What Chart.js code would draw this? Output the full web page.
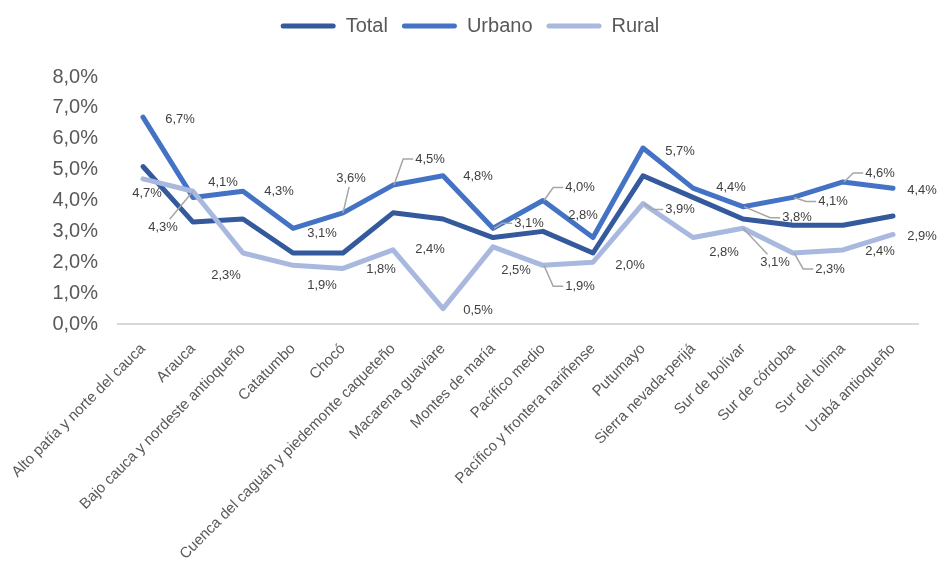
<!DOCTYPE html>
<html>
<head>
<meta charset="utf-8">
<script src="https://cdn.jsdelivr.net/npm/chart.js@4/dist/chart.umd.min.js"></script>
<style>
  body { margin: 0; background: #fff; }
</style>
</head>
<body>
<canvas id="chart" width="940" height="563"></canvas>
<script>
const FONT = "'Liberation Sans', Arial, sans-serif";

// Data
const regions = [
  'Alto patía y norte del cauca', 'Arauca', 'Bajo cauca y nordeste antioqueño', 'Catatumbo',
  'Chocó', 'Cuenca del caguán y piedemonte caqueteño', 'Macarena guaviare', 'Montes de maría',
  'Pacífico medio', 'Pacífico y frontera nariñense', 'Putumayo', 'Sierra nevada-perijá',
  'Sur de bolívar', 'Sur de córdoba', 'Sur del tolima', 'Urabá antioqueño'
];
const total  = [5.1, 3.3, 3.4, 2.3, 2.3, 3.6, 3.4, 2.8, 3.0, 2.3, 4.8, 4.1, 3.4, 3.2, 3.2, 3.5];
const urbano = [6.7, 4.1, 4.3, 3.1, 3.6, 4.5, 4.8, 3.1, 4.0, 2.8, 5.7, 4.4, 3.8, 4.1, 4.6, 4.4];
const rural  = [4.7, 4.3, 2.3, 1.9, 1.8, 2.4, 0.5, 2.5, 1.9, 2.0, 3.9, 2.8, 3.1, 2.3, 2.4, 2.9];

// Label placement (offset from point in px, leader style: '' none, 's' straight, 'e' elbow)
const urbanoLabelOffsets = [[37,2],[30,-15],[36,0],[29,5],[8,-34],[37,-26],[35,1],[36,-5],
  [37,-13],[-10,-22],[37,3],[38,-1],[54,11],[40,4],[37,-9],[29,2]];
const urbanoLeaders = ['','','','','s','e','','e','e','','','','e','e','e',''];
const ruralLabelOffsets = [[4,15],[-30,36],[-17,22],[29,20],[38,1],[37,0],[35,2],[23,24],
  [37,21],[37,3],[37,6],[31,15],[32,34],[37,16],[37,2],[29,2]];
const ruralLeaders = ['','s','','','','','','','e','','e','','s','e','',''];

const fmt = v => v.toFixed(1).replace('.', ',') + '%';

// Data labels with leader lines
const valueLabels = {
  id: 'valueLabels',
  afterDatasetsDraw(chart) {
    const ctx = chart.ctx;
    const sets = [
      { idx: 1, offsets: urbanoLabelOffsets, leaders: urbanoLeaders },
      { idx: 2, offsets: ruralLabelOffsets, leaders: ruralLeaders }
    ];
    ctx.save();
    ctx.font = '13px ' + FONT;
    ctx.textAlign = 'center';
    ctx.textBaseline = 'middle';
    sets.forEach(s => {
      const meta = chart.getDatasetMeta(s.idx);
      const values = chart.data.datasets[s.idx].data;
      meta.data.forEach((pt, i) => {
        const text = fmt(values[i]);
        const lx = pt.x + s.offsets[i][0];
        const ly = pt.y + s.offsets[i][1];
        const w = ctx.measureText(text).width;
        const hw = w / 2 + 2, hh = 8;
        ctx.strokeStyle = '#A6A6A6';
        ctx.lineWidth = 1.5;
        if (s.leaders[i] === 'e') {
          const left = lx - hw;
          ctx.beginPath();
          ctx.moveTo(pt.x + 1, pt.y);
          ctx.lineTo(left - 10, ly);
          ctx.lineTo(left, ly);
          ctx.stroke();
        } else if (s.leaders[i] === 's') {
          const dx = pt.x - lx, dy = pt.y - ly;
          const t = Math.min(hw / Math.abs(dx || 1e-6), hh / Math.abs(dy || 1e-6));
          ctx.beginPath();
          ctx.moveTo(pt.x, pt.y);
          ctx.lineTo(lx + dx * t, ly + dy * t);
          ctx.stroke();
        }
        ctx.fillStyle = '#404040';
        ctx.fillText(text, lx, ly);
      });
    });
    ctx.restore();
  }
};

// Extra room under the legend
const legendSpacing = {
  id: 'legendSpacing',
  beforeInit(chart) {
    const fit = chart.legend.fit;
    chart.legend.fit = function () {
      fit.bind(chart.legend)();
      this.height += 31;
    };
  }
};

const lineDataset = (label, data, color, order) => ({
  label, data, order,
  borderColor: color,
  backgroundColor: color,
  borderWidth: 5,
  pointRadius: 0,
  pointHoverRadius: 0,
  tension: 0,
  borderJoinStyle: 'round',
  borderCapStyle: 'round'
});

new Chart(document.getElementById('chart'), {
  type: 'line',
  data: {
    labels: regions,
    datasets: [
      lineDataset('Total', total, '#34599C', 3),
      lineDataset('Urbano', urbano, '#4472C4', 2),
      lineDataset('Rural', rural, '#A9B8DE', 1)
    ]
  },
  options: {
    responsive: false,
    animation: false,
    layout: { padding: { top: 2, right: 22, bottom: 0, left: 22 } },
    plugins: {
      tooltip: { enabled: false },
      legend: {
        position: 'top',
        labels: {
          font: { family: FONT, size: 20 },
          color: '#595959',
          boxWidth: 55,
          boxHeight: 5,
          padding: 14,
          useBorderRadius: true,
          borderRadius: 2.5,
          sort: (a, b) => a.datasetIndex - b.datasetIndex,
          generateLabels(chart) {
            return Chart.defaults.plugins.legend.labels.generateLabels(chart)
              .map(item => Object.assign(item, { lineWidth: 0 }));
          }
        }
      }
    },
    scales: {
      x: {
        offset: true,
        grid: { display: false, drawTicks: false },
        border: { display: true, color: '#D9D9D9', width: 2 },
        ticks: {
          autoSkip: false,
          minRotation: 45,
          maxRotation: 45,
          padding: 16,
          color: '#595959',
          font: { family: FONT, size: 15 }
        },
        afterFit(scale) {
          scale.height = 239;
          scale.paddingLeft = 0;
          scale.paddingRight = 0;
        }
      },
      y: {
        min: 0,
        max: 8,
        grid: { display: false, drawTicks: false },
        border: { display: false },
        ticks: {
          stepSize: 1,
          autoSkip: false,
          padding: 20,
          color: '#595959',
          font: { family: FONT, size: 20 },
          callback: v => fmt(v)
        },
        afterFit(scale) { scale.width = 96; }
      }
    }
  },
  plugins: [legendSpacing, valueLabels]
});
</script>
</body>
</html>
